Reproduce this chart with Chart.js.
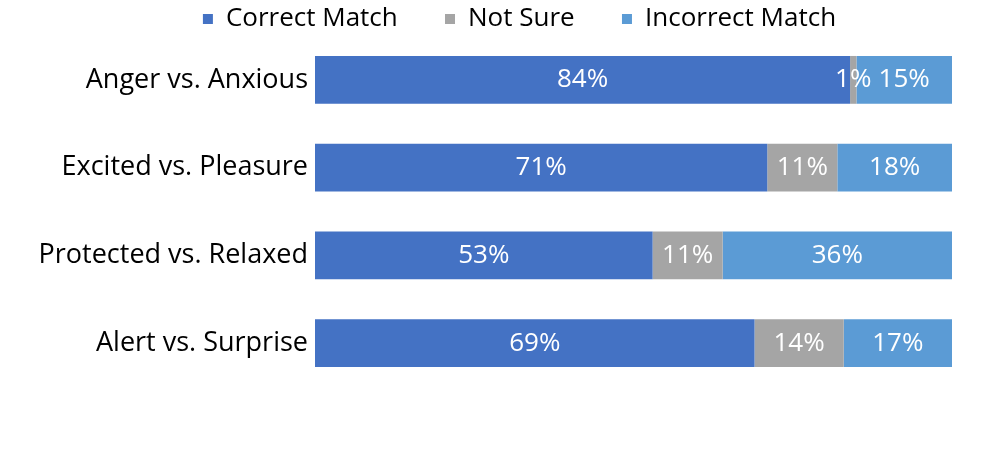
<!DOCTYPE html>
<html>
<head>
<meta charset="utf-8">
<script src="https://cdn.jsdelivr.net/npm/chart.js@4"></script>
<style>
  html, body { margin: 0; padding: 0; background: #fff; }
  #wrap { width: 996px; height: 459px; }
</style>
</head>
<body>
<div id="wrap"><canvas id="chart"></canvas></div>
<script>
const categories = ['Anger vs. Anxious', 'Excited vs. Pleasure', 'Protected vs. Relaxed', 'Alert vs. Surprise'];
const correctMatch = [84, 71, 53, 69];
const notSure = [1, 11, 11, 14];
const incorrectMatch = [15, 18, 36, 17];

const FONT = "'Open Sans', 'Noto Sans', sans-serif";

// draw the percentage in the middle of each bar segment
const barLabels = {
  id: 'barLabels',
  afterDatasetsDraw(chart) {
    const ctx = chart.ctx;
    ctx.save();
    ctx.fillStyle = '#fff';
    ctx.font = '26px ' + FONT;
    ctx.textAlign = 'center';
    ctx.textBaseline = 'middle';
    chart.data.datasets.forEach((ds, i) => {
      chart.getDatasetMeta(i).data.forEach((bar, j) => {
        const x = (bar.x + bar.base) / 2;
        ctx.fillText(ds.data[j] + '%', x, bar.y);
      });
    });
    ctx.restore();
  }
};

// legend sits a bit right of centre and slightly lower in the original
const shiftLegend = {
  id: 'shiftLegend',
  afterLayout(chart) {
    chart.legend.left += 87;
    chart.legend.top += 6;
  }
};

new Chart(document.getElementById('chart'), {
  type: 'bar',
  data: {
    labels: categories,
    datasets: [
      { label: 'Correct Match', data: correctMatch, backgroundColor: '#4472C4' },
      { label: 'Not Sure', data: notSure, backgroundColor: '#A5A5A5' },
      { label: 'Incorrect Match', data: incorrectMatch, backgroundColor: '#5B9BD5' }
    ]
  },
  options: {
    indexAxis: 'y',
    responsive: true,
    maintainAspectRatio: false,
    animation: false,
    datasets: { bar: { categoryPercentage: 1, barPercentage: 0.545 } },
    layout: { padding: { top: 0, right: 44, bottom: 72, left: 0 } },
    scales: {
      x: { stacked: true, min: 0, max: 100, display: false },
      y: {
        stacked: true,
        grid: { display: false, drawTicks: false },
        border: { display: false },
        ticks: { color: '#000', font: { family: FONT, size: 27 }, padding: 7 },
        afterFit(scale) { scale.width = 315; }
      }
    },
    plugins: {
      legend: {
        position: 'top',
        labels: {
          color: '#000',
          font: { family: FONT, size: 26, lineHeight: 1 },
          boxWidth: 10,
          boxHeight: 10,
          padding: 0,
          generateLabels(chart) {
            const items = Chart.defaults.plugins.legend.labels.generateLabels(chart);
            items.forEach((it, i) => {
              if (i < items.length - 1) it.text += '       ';
            });
            return items;
          }
        }
      },
      tooltip: { enabled: false }
    }
  },
  plugins: [barLabels, shiftLegend]
});
</script>
</body>
</html>
